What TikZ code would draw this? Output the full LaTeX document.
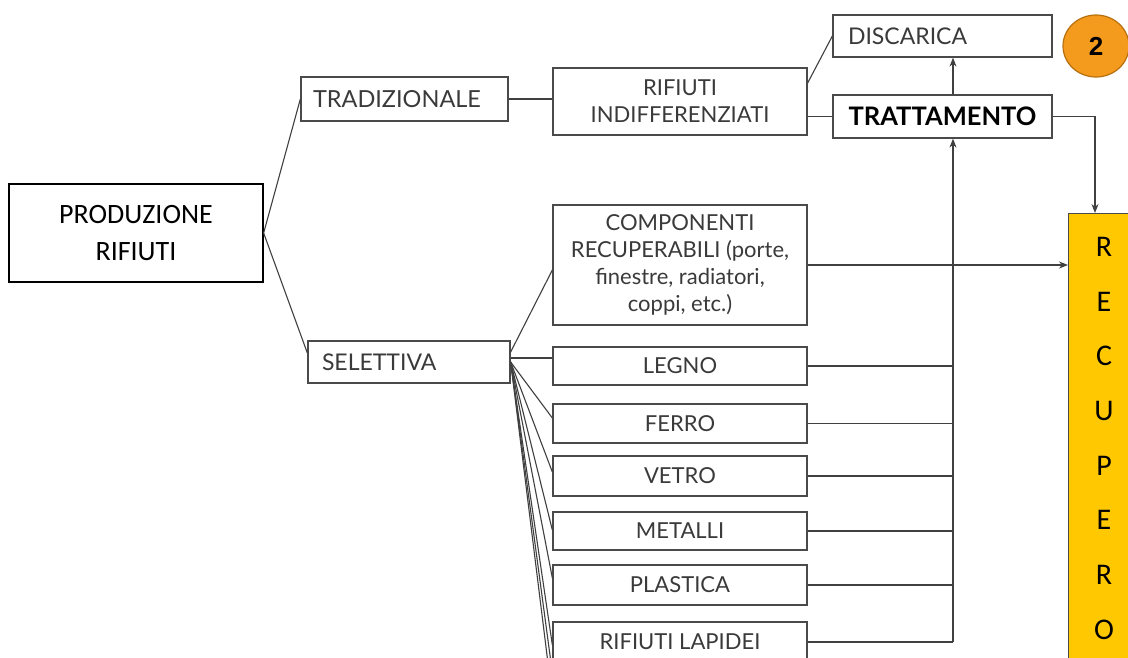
\documentclass[tikz,border=0pt]{standalone}
\usepackage{fontspec}
\setmainfont{Lato}
\newfontfamily\calib{Carlito}
\newfontfamily\arialf{Liberation Sans}
\usetikzlibrary{calc,arrows.meta,shapes.geometric}
\definecolor{boxc}{HTML}{4A4A4A}
\definecolor{txtc}{HTML}{3A3A3A}
\definecolor{linec}{HTML}{404040}
\definecolor{recfill}{HTML}{FFC800}
\definecolor{orfill}{HTML}{F49A1C}
\definecolor{ordraw}{HTML}{B8700F}
\begin{document}
\begin{tikzpicture}[x=1pt,y=-1pt,
  box/.style={draw=boxc, line width=1.3pt, inner sep=0pt, text=txtc,
    font=\fontsize{22}{27}\selectfont, align=center},
  ln/.style={draw=linec, line width=1.1pt},
  arr/.style={ln, -{Stealth[length=9pt,width=7pt]}},
]
\clip (0,0) rectangle (1128,657);
\fill[white] (0,0) rectangle (1128,657);

% left
\node[box, draw=black, text=black, minimum width=254pt, minimum height=98pt,
  font=\calib\fontsize{28}{37}\selectfont] (prod) at (136,233) {PRODUZIONE\\RIFIUTI};
\node[box, minimum width=207pt, minimum height=44pt, text width=183pt, align=left,
  font=\fontsize{23.5}{27}\selectfont]
  (trad) at (404.5,99) {TRADIZIONALE};
\node[box, minimum width=202pt, minimum height=42pt, text width=174pt, align=left,
  font=\fontsize{23}{27}\selectfont]
  (sel) at (409,362) {SELETTIVA};

% middle column
\node[box, minimum width=254pt, minimum height=67pt] (rif) at (680,101.5) {RIFIUTI\\INDIFFERENZIATI};
\node[box, minimum width=254pt, minimum height=120pt] (comp) at (680,265)
  {COMPONENTI\\RECUPERABILI (porte,\\finestre, radiatori,\\coppi, etc.)};
\node[box, minimum width=254pt, minimum height=38pt] (legno) at (680,366) {LEGNO};
\node[box, minimum width=254pt, minimum height=39pt] (ferro) at (680,423.5) {FERRO};
\node[box, minimum width=254pt, minimum height=40pt] (vetro) at (680,476) {VETRO};
\node[box, minimum width=254pt, minimum height=38pt] (metalli) at (680,531) {METALLI};
\node[box, minimum width=254pt, minimum height=40pt] (plastica) at (680,585) {PLASTICA};
\node[box, minimum width=254pt, minimum height=40pt] (lapidei) at (680,642) {RIFIUTI LAPIDEI};

% right
\node[box, minimum width=219pt, minimum height=42pt, text width=189pt, align=left,
  font=\fontsize{23}{27}\selectfont]
  (disc) at (942.5,36) {DISCARICA};
\node[box, minimum width=219pt, minimum height=43pt, text=black,
  font=\bfseries\fontsize{25.5}{27}\selectfont] (tratt) at (942.5,116.5) {TRATTAMENTO};
\node[draw=ordraw, fill=orfill, line width=1.2pt, ellipse, minimum width=66pt,
  minimum height=62pt, inner sep=0pt, font=\arialf\bfseries\fontsize{26}{26}\selectfont]
  (two) at (1096,46) {2};
\node[draw=boxc, fill=recfill, line width=1pt, anchor=north west, minimum width=80pt,
  minimum height=470pt, inner sep=0pt] (rec) at (1068,213) {};
\node[anchor=north, inner sep=0pt, align=center,
  font=\calib\fontsize{30}{54.7}\selectfont] (recl) at (1104,237) {R\\E\\C\\U\\P\\E\\R\\O};

% connectors
\coordinate (tk) at (953,642);
\coordinate (x1) at (556,700);
\coordinate (x2) at (560,760);
\draw[ln] (prod.east) -- (trad.west);
\draw[ln] (prod.east) -- ($(sel.west)+(0,-9)$);
\draw[ln] (trad.east) -- (trad.east -| rif.west);
\draw[ln] ($(rif.east)+(0,-18.5)$) -- (disc.west);
\draw[ln] (rif.east |- tratt.west) -- (tratt.west);
\draw[arr] (tk |- tratt.north) -- (tk |- disc.south);
\draw[arr] (tratt.east) -| ($(rec.north west)+(27,0)$);
\draw[arr] (comp.east) -- (comp.east -| rec.west);

\draw[ln] ($(sel.east)+(0,-10)$) -- ($(comp.west)+(0,5)$);
\draw[ln] ($(sel.east)+(0,-4)$) -- ($(legno.west)+(0,-8)$);
\draw[ln] (sel.east) -- ($(ferro.west)+(0,-5.5)$);
\draw[ln] (sel.east) -- ($(vetro.west)+(0,-4)$);
\draw[ln] (sel.east) -- ($(metalli.west)+(0,-1)$);
\draw[ln] (sel.east) -- ($(plastica.west)+(0,-7)$);
\draw[ln] (sel.east) -- ($(lapidei.west)+(0,3)$);
\draw[ln] (sel.east) -- (x1);
\draw[ln] (sel.east) -- (x2);

\draw[ln] (legno.east) -- (legno.east -| tk);
\draw[ln] (ferro.east) -- (ferro.east -| tk);
\draw[ln] (vetro.east) -- (vetro.east -| tk);
\draw[ln] (metalli.east) -- (metalli.east -| tk);
\draw[ln] (plastica.east) -- (plastica.east -| tk);
\draw[ln] (lapidei.east) -- (tk);
\draw[arr] (tk) -- (tk |- tratt.south);
\end{tikzpicture}
\end{document}
